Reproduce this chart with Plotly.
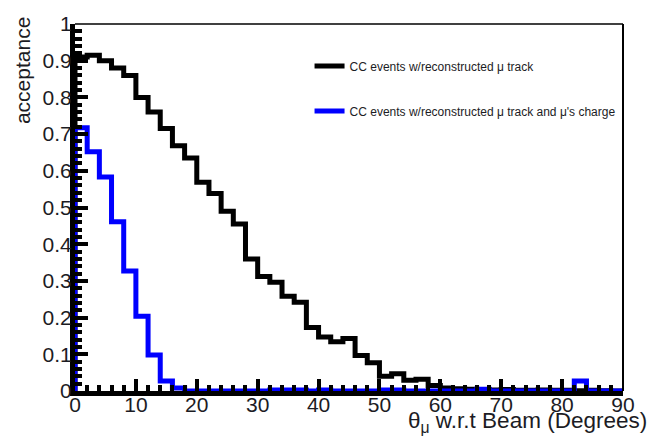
import numpy as np
import plotly.graph_objects as go

# Acceptance vs muon angle, 2-degree bins from 0 to 90 degrees
bin_edges = list(range(0, 92, 2))

acc_track = [
    0.910, 0.915, 0.900, 0.880, 0.860, 0.800, 0.760, 0.715, 0.668, 0.635,
    0.569, 0.538, 0.490, 0.455, 0.360, 0.312, 0.296, 0.258, 0.242, 0.173,
    0.147, 0.134, 0.143, 0.097, 0.077, 0.040, 0.047, 0.029, 0.032, 0.015,
    0.008, 0.006, 0.005, 0.004, 0.003, 0.004, 0.002, 0.002, 0.003, 0.002,
    0.002, 0.001, 0.002, 0.001, 0.000,
]

acc_charge = [
    0.717, 0.652, 0.583, 0.461, 0.327, 0.204, 0.098, 0.027, 0.008, 0.000,
    0.000, 0.000, 0.000, 0.000, 0.000, 0.000, 0.003, 0.003, 0.003, 0.000,
    0.003, 0.000, 0.000, 0.000, 0.000, 0.003, 0.003, 0.000, 0.000, 0.000,
    0.000, 0.000, 0.000, 0.005, 0.000, 0.000, 0.000, 0.000, 0.000, 0.000,
    0.000, 0.027, 0.000, 0.000, 0.000,
]

series_names = [
    "CC events w/reconstructed \u03bc track",
    "CC events w/reconstructed \u03bc track and \u03bc's charge",
]
series_colors = ["#000000", "#0000ff"]

y_ticks = [0, 0.1, 0.2, 0.3, 0.4, 0.5, 0.6, 0.7, 0.8, 0.9, 1]
y_ticklabels = ["0", "0.1", "0.2", "0.3", "0.4", "0.5", "0.6", "0.7", "0.8", "0.9", "1"]
x_ticks = [0, 10, 20, 30, 40, 50, 60, 70, 80, 90]

FONT = "Liberation Sans, Arial, sans-serif"
TXT = "#1c1c24"


def step_outline(edges, values):
    """Histogram outline: start and end on the baseline."""
    xs = [edges[0]] + list(edges) + [edges[-1]]
    ys = [0.0] + list(values) + [values[-1], 0.0]
    return xs, ys


fig = go.Figure()
for name, vals, col in zip(series_names, [acc_track, acc_charge], series_colors):
    xs, ys = step_outline(bin_edges, vals)
    fig.add_trace(go.Scatter(
        x=xs, y=ys, mode="lines", name=name,
        line=dict(color=col, width=5, shape="hv"),
        legendgroup=name,
    ))

axis_common = dict(
    showgrid=False, zeroline=False, showline=True, linecolor="black",
    linewidth=5, ticks="inside", tickcolor="black", tickwidth=4,
    tickfont=dict(family=FONT, size=21, color=TXT),
)

fig.update_xaxes(
    range=[0, 90], tickvals=x_ticks, ticklen=12, ticklabelstandoff=-9,
    minor=dict(dtick=2, ticks="inside", ticklen=6, tickwidth=4, tickcolor="black"),
    **axis_common,
)
fig.update_yaxes(
    range=[0, 1], tickvals=y_ticks, ticktext=y_ticklabels, ticklen=13,
    ticklabelstandoff=-6,
    minor=dict(dtick=0.02, ticks="inside", ticklen=7, tickwidth=4, tickcolor="black"),
    **axis_common,
)

# thin frame on the top and right sides
fig.add_shape(type="line", xref="paper", yref="paper", x0=0, x1=1, y0=1, y1=1,
              line=dict(color="black", width=1.5))
fig.add_shape(type="line", xref="paper", yref="paper", x0=1, x1=1, y0=0, y1=1,
              line=dict(color="black", width=2))

fig.add_annotation(
    text="acceptance", xref="paper", yref="paper", x=-0.096, y=1.024,
    xanchor="center", yanchor="top", textangle=-90, showarrow=False,
    font=dict(family=FONT, size=21, color=TXT),
)
fig.add_annotation(
    text="\u03b8<sub>\u03bc</sub> w.r.t Beam (Degrees)", xref="paper", yref="paper",
    x=1.048, y=-0.042, xanchor="right", yanchor="top", showarrow=False,
    font=dict(family=FONT, size=22.5, color=TXT),
)

fig.update_layout(
    width=647, height=441,
    margin=dict(l=75, r=20, t=19, b=50),
    paper_bgcolor="white", plot_bgcolor="white",
    showlegend=True,
    legend=dict(
        x=0.428, y=0.925, xanchor="left", yanchor="top",
        bgcolor="rgba(0,0,0,0)", tracegroupgap=26,
        font=dict(family=FONT, size=12, color=TXT),
    ),
)

fig.write_html("out.html")
